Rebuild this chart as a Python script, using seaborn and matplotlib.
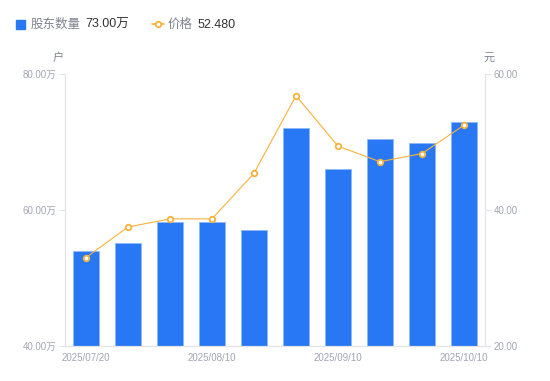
import seaborn as sns
import matplotlib
matplotlib.use('Agg')
from matplotlib import pyplot as plt
from matplotlib.lines import Line2D
from matplotlib.patches import Rectangle
from pandas import DataFrame

# values
dates = ['2025/07/20', '2025/07/31', '2025/08/08', '2025/08/10', '2025/08/20',
         '2025/08/29', '2025/09/10', '2025/09/19', '2025/09/30', '2025/10/10']
holders = [53.9, 55.1, 58.2, 58.2, 57.0, 72.0, 66.0, 70.5, 69.8, 73.0]   # 万户
price = [33.0, 37.5, 38.7, 38.7, 45.4, 56.8, 49.4, 47.1, 48.3, 52.48]   # 元
shown_ticks = [0, 3, 6, 9]

bar_color = '#2878f5'
line_color = '#f8b23c'
axis_color = '#e3e4e8'
tick_color = '#a2a5b3'

data = DataFrame({'date': dates, 'holders': holders, 'price': price})

sns.set_style('white')
plt.rcParams['font.family'] = ['Liberation Sans', 'Noto Sans CJK SC', 'DejaVu Sans']

fig = plt.figure(figsize=(5.5, 3.81), dpi=100)
ax = fig.add_axes([65 / 550, 1 - 346 / 381, 420 / 550, 272 / 381])

sns.barplot(data=data, x='date', y='holders', color=bar_color, width=0.62,
            edgecolor='#8db8fa', linewidth=0.6, saturation=1, ax=ax)
ax.set_ylim(40, 80)
ax.set_yticks([40, 60, 80])
ax.set_yticklabels(['40.00万', '60.00万', '80.00万'])
ax.set_xticks(shown_ticks)
ax.set_xticklabels([dates[i] for i in shown_ticks])
ax.set_xlabel('')
ax.set_ylabel('')

ax2 = ax.twinx()
sns.pointplot(data=data, x='date', y='price', color=line_color, markers='o',
              linestyles='-', linewidth=0.8, markersize=4,
              markerfacecolor='white', markeredgewidth=1.3, ax=ax2)
ax2.set_ylim(20, 60)
ax2.set_yticks([20, 40, 60])
ax2.set_yticklabels(['20.00', '40.00', '60.00'])
ax2.set_ylabel('')
ax2.set_xlim(-0.5, 9.5)
ax.set_xlim(-0.5, 9.5)

for a in (ax, ax2):
    for s in a.spines.values():
        s.set_color(axis_color)
        s.set_linewidth(0.8)
    a.spines['top'].set_visible(False)
    a.tick_params(axis='y', length=4, width=0.8, color=axis_color,
                  labelcolor=tick_color, labelsize=7, pad=2)
    a.tick_params(axis='x', length=0, labelcolor=tick_color, labelsize=7, pad=5)
    a.grid(False)

ax.text(-0.004, 1.04, '户', transform=ax.transAxes, ha='right', va='bottom',
        fontsize=8, color='#80838f')
ax.text(0.997, 1.04, '元', transform=ax.transAxes, ha='left', va='bottom',
        fontsize=8, color='#80838f')

# legend row at the top
fig.add_artist(Rectangle((16 / 550, 1 - 29 / 381), 9 / 550, 9 / 381,
                         transform=fig.transFigure, color=bar_color))
fig.text(31 / 550, 1 - 25 / 381, '股东数量', fontsize=9, color='#80838f', va='center')
fig.text(85 / 550, 1 - 25 / 381, '73.00万', fontsize=9, color='#333333', va='center')
fig.add_artist(Line2D([152 / 550, 164 / 550], [1 - 24 / 381, 1 - 24 / 381],
                      transform=fig.transFigure, color=line_color, linewidth=1.2))
fig.add_artist(Line2D([158 / 550], [1 - 24 / 381], transform=fig.transFigure,
                      color=line_color, marker='o', markersize=4,
                      markerfacecolor='white', markeredgewidth=1.3))
fig.text(168 / 550, 1 - 25 / 381, '价格', fontsize=9, color='#80838f', va='center')
fig.text(198 / 550, 1 - 25 / 381, '52.480', fontsize=9, color='#333333', va='center')

fig.savefig('out.png', dpi=100)
